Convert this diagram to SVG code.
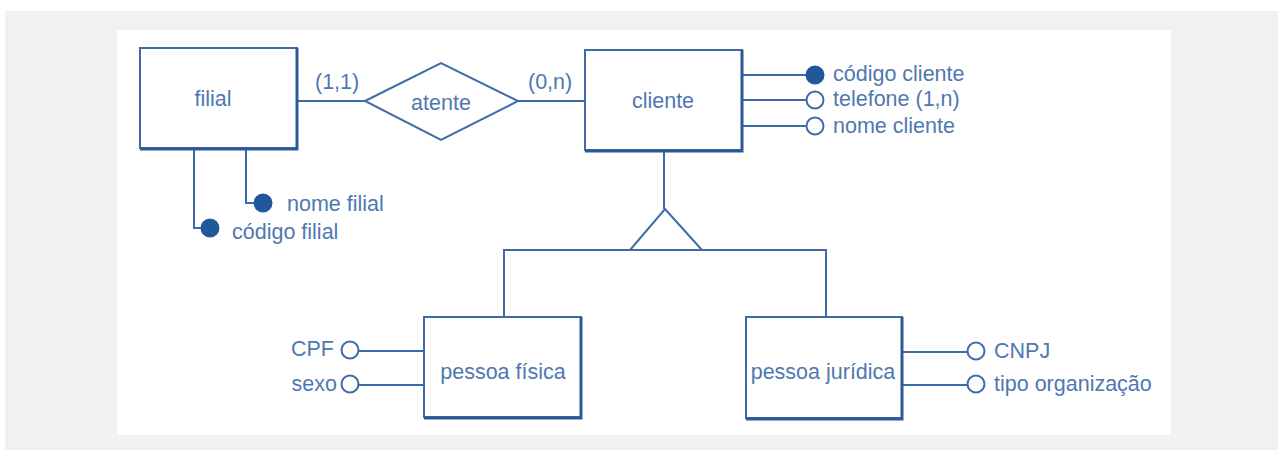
<svg xmlns="http://www.w3.org/2000/svg" width="1278" height="450" viewBox="0 0 1278 450">
<defs>
<style>
.ln{stroke:#3f6ca8;stroke-width:2;fill:none}
.box{stroke:#3f6ca8;stroke-width:2;fill:#ffffff}
.sh{stroke:#2c5a98;stroke-width:3;fill:none}
.t{font-family:"Liberation Sans",Arial,sans-serif;font-size:21.5px;fill:#4f78b0}
.c{text-anchor:middle}
.e{text-anchor:end}
.open{stroke:#3f6ca8;stroke-width:2;fill:#ffffff}
.fill{stroke:#22579b;stroke-width:2;fill:#22579b}
</style>
</defs>
<rect x="0" y="0" width="1278" height="450" fill="#ffffff"/>
<rect x="5" y="11" width="1273" height="439" fill="#f1f1f1"/>
<rect x="117" y="30" width="1054" height="405" fill="#ffffff"/>

<g id="connectors">
<line class="ln" x1="297" y1="101" x2="365" y2="101"/>
<line class="ln" x1="518" y1="101" x2="585" y2="101"/>
<line class="ln" x1="664" y1="151" x2="664" y2="209"/>
<polyline class="ln" points="504,317 504,250 826,250 826,317"/>
<polygon class="ln" points="665,209 702,250 630,250" stroke-width="2.5"/>
<polyline class="ln" points="246,149 246,203 254,203"/>
<polyline class="ln" points="194,149 194,228 201,228"/>
<line class="ln" x1="743" y1="75" x2="806" y2="75"/>
<line class="ln" x1="743" y1="100" x2="806" y2="100"/>
<line class="ln" x1="743" y1="126" x2="806" y2="126"/>
<line class="ln" x1="424" y1="351" x2="359" y2="351"/>
<line class="ln" x1="424" y1="385" x2="359" y2="385"/>
<line class="ln" x1="903" y1="352" x2="967" y2="352"/>
<line class="ln" x1="903" y1="385" x2="967" y2="385"/>
</g>

<g id="filial">
<rect class="box" x="140" y="48" width="157" height="100"/>
<polyline class="sh" points="297,48 297,149 140,149"/>
<text class="t c" x="213" y="106">filial</text>
<text class="t" x="315" y="89">(1,1)</text>
</g>

<g id="atente">
<polygon class="ln" points="365,101 441,63 518,101 441,140" fill="#ffffff"/>
<text class="t c" x="441" y="110">atente</text>
</g>

<g id="cliente">
<rect class="box" x="585" y="50" width="157" height="100"/>
<polyline class="sh" points="742,50 742,151 585,151"/>
<text class="t c" x="663" y="108">cliente</text>
<text class="t" x="528" y="89">(0,n)</text>
</g>

<g id="attr-nome-filial">
<circle class="fill" cx="263" cy="203" r="8.5"/>
<text class="t" x="287" y="211">nome filial</text>
</g>
<g id="attr-codigo-filial">
<circle class="fill" cx="210" cy="228" r="8.5"/>
<text class="t" x="232" y="239">código filial</text>
</g>

<g id="attr-codigo-cliente">
<circle class="fill" cx="815" cy="75" r="8.5"/>
<text class="t" x="833" y="81">código cliente</text>
</g>
<g id="attr-telefone">
<circle class="open" cx="815" cy="100" r="8.5"/>
<text class="t" x="833" y="106">telefone (1,n)</text>
</g>
<g id="attr-nome-cliente">
<circle class="open" cx="815" cy="126" r="8.5"/>
<text class="t" x="833" y="133">nome cliente</text>
</g>

<g id="pessoa-fisica">
<rect class="box" x="424" y="317" width="157" height="100"/>
<polyline class="sh" points="581,317 581,418 424,418"/>
<text class="t c" x="503" y="379">pessoa física</text>
</g>
<g id="attr-cpf">
<circle class="open" cx="350" cy="350" r="8.5"/>
<text class="t e" x="334" y="356">CPF</text>
</g>
<g id="attr-sexo">
<circle class="open" cx="350" cy="384" r="8.5"/>
<text class="t e" x="337" y="391">sexo</text>
</g>

<g id="pessoa-juridica">
<rect class="box" x="746" y="317" width="156" height="101"/>
<polyline class="sh" points="902,317 902,419 746,419"/>
<text class="t c" x="823" y="379">pessoa jurídica</text>
</g>
<g id="attr-cnpj">
<circle class="open" cx="976" cy="351" r="8.5"/>
<text class="t" x="994" y="358">CNPJ</text>
</g>
<g id="attr-tipo">
<circle class="open" cx="976" cy="384" r="8.5"/>
<text class="t" x="994" y="391">tipo organização</text>
</g>
</svg>
